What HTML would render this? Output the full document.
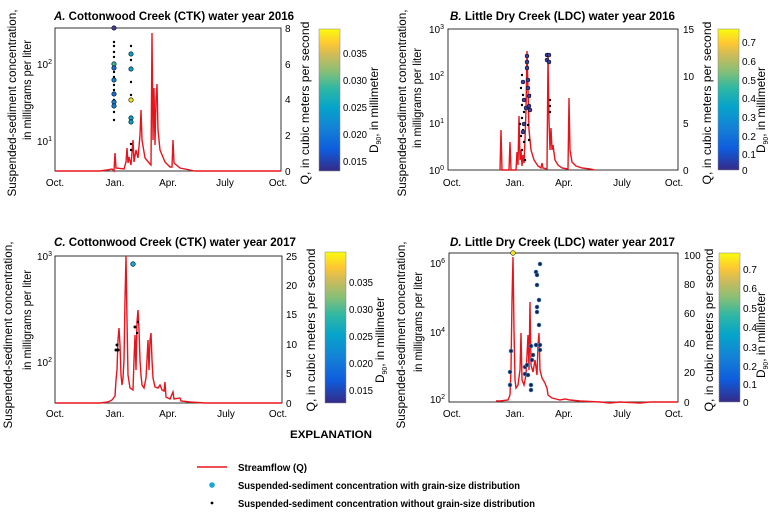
<!DOCTYPE html>
<html><head><meta charset="utf-8"><style>
body{margin:0;background:#fff}
svg{display:block;font-family:"Liberation Sans",sans-serif}
.t{font-size:12px;font-weight:bold}
.l{font-size:12px}
.k{font-size:10px}
.q{fill:none;stroke:#e8141c;stroke-width:1.4}
.b{font-size:10px;font-weight:bold}
</style></head><body>
<svg width="773" height="516" viewBox="0 0 773 516">
<defs>
<linearGradient id="par" x1="0" y1="1" x2="0" y2="0">
<stop offset="0" stop-color="#352a87"/><stop offset="0.15" stop-color="#0f5cdd"/><stop offset="0.3" stop-color="#1481d6"/><stop offset="0.45" stop-color="#06a4ca"/><stop offset="0.58" stop-color="#2eb7a4"/><stop offset="0.7" stop-color="#87bf77"/><stop offset="0.82" stop-color="#d1bb59"/><stop offset="0.9" stop-color="#fec832"/><stop offset="1" stop-color="#f9fb0e"/>
</linearGradient>
</defs>

<!-- PANEL A -->
<text class="t" x="54" y="20" textLength="240" lengthAdjust="spacingAndGlyphs"><tspan font-style="italic">A.</tspan>  Cottonwood Creek (CTK) water year 2016</text>
<rect x="55" y="28" width="226" height="143" fill="none" stroke="#000" stroke-width="0.8"/>
<g class="k" text-anchor="end">
<text x="52" y="68">10<tspan dy="-4" font-size="7">2</tspan></text>
<text x="52" y="145">10<tspan dy="-4" font-size="7">1</tspan></text>
</g>
<g class="k">
<text x="285" y="32">8</text><text x="285" y="68">6</text><text x="285" y="103">4</text><text x="285" y="139">2</text><text x="285" y="175">0</text>
</g>
<g class="k" text-anchor="middle">
<text x="55" y="186">Oct.</text><text x="115" y="186">Jan.</text><text x="168" y="186">Apr.</text><text x="225" y="186">July</text><text x="278" y="186">Oct.</text>
</g>
<polyline class="q" points="55,171 100,171 107,170 112,169 114,171 115,153 116,168 124,169 126,162 127,148 128,163 129,157 131,165 133,140 134,162 136,150 138,158 140,135 141,110 142,140 145,158 150,164 151,165 152,33 153,140 154,88 155,145 156,100 157,84 158,130 160,150 165,162 170,167 172,167 173,140 174,163 180,168 190,170 195,171 281,171"/>
<g fill="#000">
<circle cx="114" cy="42" r="1.2"/><circle cx="114" cy="46" r="1.2"/><circle cx="114" cy="52" r="1.2"/><circle cx="114" cy="57" r="1.2"/><circle cx="114" cy="72" r="1.2"/><circle cx="114" cy="77" r="1.2"/><circle cx="114" cy="85" r="1.2"/><circle cx="114" cy="90" r="1.2"/><circle cx="114" cy="100" r="1.2"/><circle cx="114" cy="112" r="1.2"/><circle cx="114" cy="120" r="1.2"/>
<circle cx="131" cy="46" r="1.2"/><circle cx="131" cy="60" r="1.2"/><circle cx="131" cy="82" r="1.2"/><circle cx="131" cy="95" r="1.2"/><circle cx="131" cy="144" r="1.2"/><circle cx="131" cy="150" r="1.2"/>
</g>
<g stroke="#000" stroke-width="0.6">
<circle cx="114" cy="28" r="2.2" fill="#433d9e"/><circle cx="114" cy="64" r="2.2" fill="#2eb7a4"/><circle cx="114" cy="68" r="2.2" fill="#1a6fd8"/><circle cx="114" cy="80" r="2.2" fill="#1481d6"/><circle cx="114" cy="94" r="2.2" fill="#1a6fd8"/><circle cx="114" cy="102" r="2.2" fill="#1481d6"/><circle cx="114" cy="106" r="2.2" fill="#1481d6"/>
<circle cx="131" cy="54" r="2.2" fill="#06a4ca"/><circle cx="131" cy="69" r="2.2" fill="#06a4ca"/><circle cx="131" cy="100" r="2.2" fill="#f9e51e"/><circle cx="131" cy="118" r="2.2" fill="#06a4ca"/><circle cx="131" cy="122" r="2.2" fill="#06a4ca"/>
</g>
<text class="l" transform="translate(16,103) rotate(-90)" text-anchor="middle" textLength="187" lengthAdjust="spacingAndGlyphs">Suspended-sediment concentration,</text>
<text class="l" transform="translate(31,90) rotate(-90)" text-anchor="middle" textLength="100" lengthAdjust="spacingAndGlyphs">in milligrams per liter</text>
<text class="l" transform="translate(309,103) rotate(-90)" text-anchor="middle" textLength="163" lengthAdjust="spacingAndGlyphs">Q, in cubic meters per second</text>
<rect x="319" y="29" width="21" height="142" fill="url(#par)" stroke="#888" stroke-width="0.5"/>
<g class="k"><text x="343" y="57" textLength="24" lengthAdjust="spacingAndGlyphs">0.035</text><text x="343" y="84" textLength="24" lengthAdjust="spacingAndGlyphs">0.030</text><text x="343" y="111" textLength="24" lengthAdjust="spacingAndGlyphs">0.025</text><text x="343" y="138" textLength="24" lengthAdjust="spacingAndGlyphs">0.020</text><text x="343" y="165" textLength="24" lengthAdjust="spacingAndGlyphs">0.015</text></g>
<text class="l" transform="translate(378,110) rotate(-90)" text-anchor="middle" textLength="86" lengthAdjust="spacingAndGlyphs">D<tspan font-size="7" dy="3">90</tspan><tspan dy="-3">, in millimeter</tspan></text>

<!-- PANEL B -->
<text class="t" x="450" y="20" textLength="225" lengthAdjust="spacingAndGlyphs"><tspan font-style="italic">B.</tspan>  Little Dry Creek (LDC) water year 2016</text>
<rect x="448" y="29" width="230" height="141" fill="none" stroke="#000" stroke-width="0.8"/>
<g class="k" text-anchor="end">
<text x="444" y="33">10<tspan dy="-4" font-size="7">3</tspan></text>
<text x="444" y="80">10<tspan dy="-4" font-size="7">2</tspan></text>
<text x="444" y="127">10<tspan dy="-4" font-size="7">1</tspan></text>
<text x="444" y="174">10<tspan dy="-4" font-size="7">0</tspan></text>
</g>
<g class="k"><text x="683" y="33">15</text><text x="683" y="80">10</text><text x="683" y="127">5</text><text x="683" y="174">0</text></g>
<g class="k" text-anchor="middle">
<text x="452" y="186">Oct.</text><text x="515" y="186">Jan.</text><text x="564" y="186">Apr.</text><text x="622" y="186">July</text><text x="674" y="186">Oct.</text>
</g>
<polyline class="q" points="500,170 501,130 502,170 509,170 510,142 511,170 516,170 517,152 518,165 519,116 520,160 521,150 522,166 523,155 524,163 525,140 526,110 527,51 528,90 529,130 531,150 534,160 538,166 541,168 542,163 543,168 547,169 548,57 549,120 550,150 551,128 552,150 553,145 555,160 558,165 562,168 568,169 569,98 570,150 572,162 576,166 582,168 590,169 595,170"/>
<g fill="#000">
<circle cx="522" cy="75" r="1.2"/><circle cx="521" cy="88" r="1.2"/><circle cx="523" cy="95" r="1.2"/><circle cx="522" cy="105" r="1.2"/><circle cx="524" cy="112" r="1.2"/><circle cx="522" cy="118" r="1.2"/><circle cx="520" cy="124" r="1.2"/><circle cx="523" cy="130" r="1.2"/><circle cx="521" cy="136" r="1.2"/><circle cx="524" cy="142" r="1.2"/><circle cx="522" cy="150" r="1.2"/><circle cx="525" cy="160" r="1.2"/><circle cx="530" cy="95" r="1.2"/><circle cx="528" cy="125" r="1.2"/><circle cx="529" cy="140" r="1.2"/>
<circle cx="550" cy="100" r="1.2"/><circle cx="550" cy="106" r="1.2"/><circle cx="550" cy="112" r="1.2"/>
</g>
<g stroke="#000" stroke-width="0.5" fill="#3b3f9e">
<circle cx="523" cy="82" r="2"/><circle cx="524" cy="100" r="2"/><circle cx="526" cy="108" r="2"/><circle cx="527" cy="56" r="2"/><circle cx="527" cy="62" r="2"/><circle cx="527" cy="68" r="2"/><circle cx="528" cy="80" r="2"/><circle cx="528" cy="88" r="2"/><circle cx="529" cy="96" r="2"/><circle cx="529" cy="106" r="2"/><circle cx="530" cy="110" r="2"/><circle cx="524" cy="124" r="2"/><circle cx="523" cy="132" r="2"/>
<circle cx="547" cy="55" r="2"/><circle cx="549" cy="55" r="2"/><circle cx="547" cy="60" r="2"/><circle cx="549" cy="62" r="2"/>
</g>
<text class="l" transform="translate(406,103) rotate(-90)" text-anchor="middle" textLength="187" lengthAdjust="spacingAndGlyphs">Suspended-sediment concentration,</text>
<text class="l" transform="translate(421,98) rotate(-90)" text-anchor="middle" textLength="100" lengthAdjust="spacingAndGlyphs">in milligrams per liter</text>
<text class="l" transform="translate(711,103) rotate(-90)" text-anchor="middle" textLength="163" lengthAdjust="spacingAndGlyphs">Q, in cubic meters per second</text>
<rect x="718" y="29" width="21" height="141" fill="url(#par)" stroke="#888" stroke-width="0.5"/>
<g class="k"><text x="742" y="46">0.7</text><text x="742" y="65">0.6</text><text x="742" y="84">0.5</text><text x="742" y="102">0.4</text><text x="742" y="121">0.3</text><text x="742" y="140">0.2</text><text x="742" y="158">0.1</text><text x="742" y="174">0</text></g>
<text class="l" transform="translate(765,110) rotate(-90)" text-anchor="middle" textLength="86" lengthAdjust="spacingAndGlyphs">D<tspan font-size="7" dy="3">90</tspan><tspan dy="-3">, in millimeter</tspan></text>

<!-- PANEL C -->
<text class="t" x="54" y="246" textLength="242" lengthAdjust="spacingAndGlyphs"><tspan font-style="italic">C.</tspan>  Cottonwood Creek  (CTK) water year 2017</text>
<rect x="55" y="256" width="227" height="147" fill="none" stroke="#000" stroke-width="0.8"/>
<g class="k" text-anchor="end">
<text x="52" y="260">10<tspan dy="-4" font-size="7">3</tspan></text>
<text x="52" y="366">10<tspan dy="-4" font-size="7">2</tspan></text>
</g>
<g class="k"><text x="286" y="260">25</text><text x="286" y="289">20</text><text x="286" y="318">15</text><text x="286" y="348">10</text><text x="286" y="377">5</text><text x="286" y="407">0</text></g>
<g class="k" text-anchor="middle">
<text x="55" y="417">Oct.</text><text x="115" y="417">Jan.</text><text x="168" y="417">Apr.</text><text x="226" y="417">July</text><text x="278" y="417">Oct.</text>
</g>
<polyline class="q" points="55,403 100,403 108,402 112,400 115,396 116,380 117,370 118,340 119,328 120,345 121,375 122,385 123,378 124,360 125,300 126,256 127,320 128,375 130,388 133,390 134,360 135,335 136,370 137,322 138,310 139,330 140,360 141,375 142,385 144,388 146,378 147,360 148,340 149,370 150,340 151,333 152,360 153,378 155,387 158,388 160,385 162,390 164,391 165,382 166,397 170,399 173,392 174,399 180,398 181,401 190,402 205,403 282,403"/>
<g fill="#000"><circle cx="117" cy="345" r="1.5"/><circle cx="118" cy="350" r="1.5"/><circle cx="116" cy="350" r="1.5"/><circle cx="135" cy="327" r="1.5"/><circle cx="137" cy="333" r="1.2"/><circle cx="138" cy="322" r="1.2"/></g>
<circle cx="133" cy="264" r="2.3" fill="#1aa6dc" stroke="#000" stroke-width="0.6"/>
<text class="l" transform="translate(12,335) rotate(-90)" text-anchor="middle" textLength="187" lengthAdjust="spacingAndGlyphs">Suspended-sediment concentration,</text>
<text class="l" transform="translate(31,320) rotate(-90)" text-anchor="middle" textLength="100" lengthAdjust="spacingAndGlyphs">in milligrams per liter</text>
<text class="l" transform="translate(315,330) rotate(-90)" text-anchor="middle" textLength="163" lengthAdjust="spacingAndGlyphs">Q, in cubic meters per second</text>
<rect x="325" y="252" width="21" height="151" fill="url(#par)" stroke="#888" stroke-width="0.5"/>
<g class="k"><text x="349" y="286" textLength="24" lengthAdjust="spacingAndGlyphs">0.035</text><text x="349" y="313" textLength="24" lengthAdjust="spacingAndGlyphs">0.030</text><text x="349" y="340" textLength="24" lengthAdjust="spacingAndGlyphs">0.025</text><text x="349" y="367" textLength="24" lengthAdjust="spacingAndGlyphs">0.020</text><text x="349" y="394" textLength="24" lengthAdjust="spacingAndGlyphs">0.015</text></g>
<text class="l" transform="translate(384,340) rotate(-90)" text-anchor="middle" textLength="86" lengthAdjust="spacingAndGlyphs">D<tspan font-size="7" dy="3">90</tspan><tspan dy="-3">, in millimeter</tspan></text>

<!-- PANEL D -->
<text class="t" x="450" y="246" textLength="225" lengthAdjust="spacingAndGlyphs"><tspan font-style="italic">D.</tspan>  Little Dry Creek (LDC) water year 2017</text>
<rect x="449" y="253" width="229" height="149" fill="none" stroke="#000" stroke-width="0.8"/>
<g class="k" text-anchor="end">
<text x="445" y="267">10<tspan dy="-4" font-size="7">6</tspan></text>
<text x="445" y="336">10<tspan dy="-4" font-size="7">4</tspan></text>
<text x="445" y="403">10<tspan dy="-4" font-size="7">2</tspan></text>
</g>
<g class="k"><text x="684" y="259">100</text><text x="684" y="288">80</text><text x="684" y="317">60</text><text x="684" y="347">40</text><text x="684" y="376">20</text><text x="684" y="406">0</text></g>
<g class="k" text-anchor="middle">
<text x="452" y="417">Oct.</text><text x="515" y="417">Jan.</text><text x="564" y="417">Apr.</text><text x="622" y="417">July</text><text x="674" y="417">Oct.</text>
</g>
<polyline class="q" points="496,401 500,401 508,400 510,395 511,370 512,300 513,257 514,330 515,380 516,388 518,385 520,370 521,333 522,380 524,385 526,375 528,335 529,370 530,302 531,365 533,372 535,360 537,375 538,345 539,333 540,370 542,378 545,383 546,386 547,388 548,395 552,398 556,399 560,400 565,399 570,400 580,401 600,402 610,403 620,402 640,403 650,402 678,402"/>
<circle cx="513" cy="253" r="2.4" fill="#f0e41a" stroke="#000" stroke-width="0.5"/>
<g stroke="#4aa8e0" stroke-width="0.6" fill="#1a1f50">
<circle cx="511" cy="351" r="2"/><circle cx="510" cy="372" r="2"/><circle cx="510" cy="385" r="2"/>
<circle cx="540" cy="264" r="2"/><circle cx="536" cy="272" r="2"/><circle cx="537" cy="275" r="2"/><circle cx="537" cy="285" r="2"/><circle cx="539" cy="300" r="2"/><circle cx="537" cy="307" r="2"/><circle cx="537" cy="312" r="2"/><circle cx="539" cy="325" r="2"/><circle cx="540" cy="345" r="2"/><circle cx="540" cy="350" r="2"/><circle cx="536" cy="345" r="2"/>
<circle cx="525" cy="367" r="2"/><circle cx="527" cy="365" r="2"/><circle cx="525" cy="374" r="2"/><circle cx="528" cy="375" r="2"/><circle cx="531" cy="346" r="2"/><circle cx="532" cy="360" r="2"/><circle cx="531" cy="385" r="2"/><circle cx="531" cy="390" r="2"/><circle cx="533" cy="355" r="2"/>
</g>
<text class="l" transform="translate(405,335) rotate(-90)" text-anchor="middle" textLength="187" lengthAdjust="spacingAndGlyphs">Suspended-sediment concentration,</text>
<text class="l" transform="translate(422,322) rotate(-90)" text-anchor="middle" textLength="100" lengthAdjust="spacingAndGlyphs">in milligrams per liter</text>
<text class="l" transform="translate(713,330) rotate(-90)" text-anchor="middle" textLength="163" lengthAdjust="spacingAndGlyphs">Q, in cubic meters per second</text>
<rect x="719" y="253" width="21" height="149" fill="url(#par)" stroke="#888" stroke-width="0.5"/>
<g class="k"><text x="743" y="273">0.7</text><text x="743" y="292">0.6</text><text x="743" y="312">0.5</text><text x="743" y="331">0.4</text><text x="743" y="351">0.3</text><text x="743" y="370">0.2</text><text x="743" y="388">0.1</text><text x="743" y="406">0</text></g>
<text class="l" transform="translate(765,335) rotate(-90)" text-anchor="middle" textLength="86" lengthAdjust="spacingAndGlyphs">D<tspan font-size="7" dy="3">90</tspan><tspan dy="-3">, in millimeter</tspan></text>

<!-- EXPLANATION -->
<text x="290" y="438" class="b" style="font-size:11px" textLength="82" lengthAdjust="spacingAndGlyphs">EXPLANATION</text>
<line x1="197" y1="467" x2="227" y2="467" stroke="#e8141c" stroke-width="1.5"/>
<text x="238" y="471" class="b" textLength="69" lengthAdjust="spacingAndGlyphs">Streamflow (Q)</text>
<circle cx="212" cy="485" r="2.8" fill="#1aa6dc"/>
<text x="238" y="489" class="b" textLength="282" lengthAdjust="spacingAndGlyphs">Suspended-sediment concentration with grain-size distribution</text>
<circle cx="212" cy="503" r="1.4" fill="#000"/>
<text x="238" y="507" class="b" textLength="297" lengthAdjust="spacingAndGlyphs">Suspended-sediment concentration without grain-size distribution</text>
</svg>
</body></html>
